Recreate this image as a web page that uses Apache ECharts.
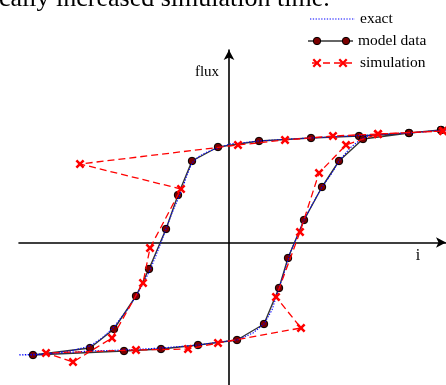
<!DOCTYPE html>
<html>
<head>
<meta charset="utf-8">
<script src="https://cdn.jsdelivr.net/npm/echarts@6/dist/echarts.min.js"></script>
<style>
  html, body { margin: 0; padding: 0; background: #fff; }
  #chart { width: 446px; height: 385px; }
</style>
</head>
<body>
<div id="chart"></div>
<script>
// Hysteresis loop: current i (x) versus flux (y), arbitrary units.

// exact curve: upper branch right -> left, then lower branch left -> right
const exactI = [21.7, 18.0, 14.1, 10.1, 6.1, 3.0, 0.1, -1.1, -2.2, -3.1, -3.7, -4.2, -4.6, -5.1, -5.7, -6.3, -6.9, -7.4, -7.9, -8.6, -9.3, -10.1, -10.9, -11.5, -12.7, -13.9, -15.9, -18.4, -21.6,
                -19.6, -16.9, -13.9, -10.5, -6.8, -3.1, -0.9, 0.8, 2.4, 3.5, 4.3, 5.0, 5.6, 6.1, 6.8, 7.5, 8.4, 9.3, 10.3, 11.0, 12.1, 13.1, 14.1, 16.1, 18.0, 21.7];
const exactFlux = [11.25, 10.95, 10.75, 10.55, 10.35, 10.15, 9.85, 9.45, 9.05, 8.55, 7.95, 6.75, 5.55, 4.35, 2.95, 1.35, -0.25, -1.55, -2.75, -4.15, -5.35, -6.65, -7.65, -8.45, -9.55, -10.35, -10.85, -11.15, -11.25,
                   -11.25, -11.05, -10.85, -10.75, -10.55, -10.25, -9.95, -9.75, -9.05, -8.15, -6.75, -4.55, -2.75, -1.05, 0.55, 2.25, 3.95, 5.55, 6.95, 8.15, 9.45, 10.25, 10.75, 10.85, 10.95, 11.25];

// model data samples
const modelI = [21.2, 18.0, 13.0, 8.2, 3.0, -1.1, -3.7, -5.1, -6.3, -8.0, -9.3, -11.5, -13.9, -19.6,
                -10.5, -6.8, -3.1, 0.8, 3.5, 5.0, 5.9, 7.5, 9.3, 11.0, 13.4, 18.0, 21.2];
const modelFlux = [11.25, 10.95, 10.65, 10.45, 10.15, 9.55, 8.15, 4.75, 1.35, -2.65, -5.35, -8.65, -10.55, -11.25,
                   -10.85, -10.65, -10.25, -9.75, -8.15, -4.55, -1.55, 2.25, 5.55, 8.15, 10.35, 10.95, 11.25];

// simulation samples
const simI = [21.4, 14.9, 10.4, 5.6, 0.9, -14.9, -4.8, -7.9, -8.6, -11.7, -15.6, -18.3,
              -9.3, -4.1, -1.1, 7.2, 4.7, 7.1, 9.0, 11.7, 14.9, 21.4];
const simFlux = [11.15, 10.85, 10.65, 10.25, 9.75, 7.85, 5.35, -0.55, -4.05, -9.55, -11.95, -11.05,
                 -10.75, -10.65, -10.05, -8.55, -5.45, 1.05, 6.95, 9.75, 10.85, 11.15];

const legendNames = ['exact', 'model data', 'simulation'];
const axisNameI = 'i';
const axisNameFlux = 'flux';
const headerText = 'cally increased simulation time.';

const pairs = (xs, ys) => xs.map((x, k) => [x, ys[k]]);

const SERIF = '"Liberation Serif", "DejaVu Serif", serif';
const BLUE = '#0000ff';
const RED = '#ff0000';
const MAROON = '#7a0000';
const crossSymbol = 'path://M0,2L2,0L5,3L8,0L10,2L7,5L10,8L8,10L5,7L2,10L0,8L3,5Z';

function crossPoints(cx, cy, s, t) {
  return [
    [cx - s, cy - s + t], [cx - s + t, cy - s], [cx, cy - t], [cx + s - t, cy - s],
    [cx + s, cy - s + t], [cx + t, cy], [cx + s, cy + s - t], [cx + s - t, cy + s],
    [cx, cy + t], [cx - s + t, cy + s], [cx - s, cy + s - t], [cx - t, cy]
  ];
}

const chart = echarts.init(document.getElementById('chart'), null, { renderer: 'canvas' });

const legendFont = '15.5px ' + SERIF;
const graphics = [
  { type: 'text', x: -1, y: -1, silent: true,
    style: { text: headerText, font: '26px ' + SERIF, fill: '#000', textVerticalAlign: 'middle' } },
  { type: 'text', x: 207, y: 72, silent: true,
    style: { text: axisNameFlux, font: '15px ' + SERIF, fill: '#000', textAlign: 'center', textVerticalAlign: 'middle' } },
  { type: 'text', x: 418, y: 256, silent: true,
    style: { text: axisNameI, font: '16px ' + SERIF, fill: '#000', textAlign: 'center', textVerticalAlign: 'middle' } },
  // legend: exact
  { type: 'line', silent: true, shape: { x1: 310, y1: 19, x2: 355, y2: 19 },
    style: { stroke: BLUE, lineWidth: 1.1, lineDash: [1.3, 1.5] } },
  { type: 'text', x: 360, y: 19, silent: true,
    style: { text: legendNames[0], font: legendFont, fill: '#000', textVerticalAlign: 'middle' } },
  // legend: model data
  { type: 'line', silent: true, shape: { x1: 308, y1: 41, x2: 353, y2: 41 },
    style: { stroke: '#333', lineWidth: 1.4 } },
  { type: 'circle', silent: true, shape: { cx: 317, cy: 41, r: 3.7 },
    style: { fill: MAROON, stroke: '#000', lineWidth: 1 } },
  { type: 'circle', silent: true, shape: { cx: 346, cy: 41, r: 3.7 },
    style: { fill: MAROON, stroke: '#000', lineWidth: 1 } },
  { type: 'text', x: 358, y: 41, silent: true,
    style: { text: legendNames[1], font: legendFont, fill: '#000', textVerticalAlign: 'middle' } },
  // legend: simulation
  { type: 'line', silent: true, shape: { x1: 312, y1: 63, x2: 352, y2: 63 },
    style: { stroke: RED, lineWidth: 1.3, lineDash: [7, 4] } },
  { type: 'polygon', silent: true, shape: { points: crossPoints(317, 63, 4.5, 1.6) },
    style: { fill: RED } },
  { type: 'polygon', silent: true, shape: { points: crossPoints(343, 63, 4.5, 1.6) },
    style: { fill: RED } },
  { type: 'text', x: 360, y: 63, silent: true,
    style: { text: legendNames[2], font: legendFont, fill: '#000', textVerticalAlign: 'middle' } }
];

const axisCommon = {
  type: 'value',
  axisLine: {
    onZero: true,
    symbol: ['none', 'arrow'],
    symbolSize: [8, 10],
    lineStyle: { color: '#000', width: 1.6 }
  },
  axisTick: { show: false },
  axisLabel: { show: false },
  splitLine: { show: false }
};

chart.setOption({
  animation: false,
  backgroundColor: '#fff',
  grid: { left: 19, right: 0, top: 50, bottom: 0, containLabel: false },
  xAxis: Object.assign({}, axisCommon, { min: -21, max: 21.7 }),
  yAxis: Object.assign({}, axisCommon, { min: -14.25, max: 19.25 }),
  series: [
    {
      name: legendNames[0], type: 'line', data: pairs(exactI, exactFlux),
      symbol: 'none', clip: false, silent: true, z: 3,
      lineStyle: { color: BLUE, width: 1.1, type: [1.3, 1.5] }
    },
    {
      name: legendNames[1], type: 'line', data: pairs(modelI, modelFlux),
      symbol: 'circle', symbolSize: 7.5, clip: false, silent: true, z: 2,
      itemStyle: { color: MAROON, borderColor: '#000', borderWidth: 1 },
      lineStyle: { color: '#333', width: 1.4 }
    },
    {
      name: legendNames[2], type: 'line', data: pairs(simI, simFlux),
      symbol: crossSymbol, symbolSize: 9, clip: false, silent: true, z: 4,
      itemStyle: { color: RED },
      lineStyle: { color: RED, width: 1.3, type: [7, 4] }
    }
  ],
  graphic: graphics
});
</script>
</body>
</html>
